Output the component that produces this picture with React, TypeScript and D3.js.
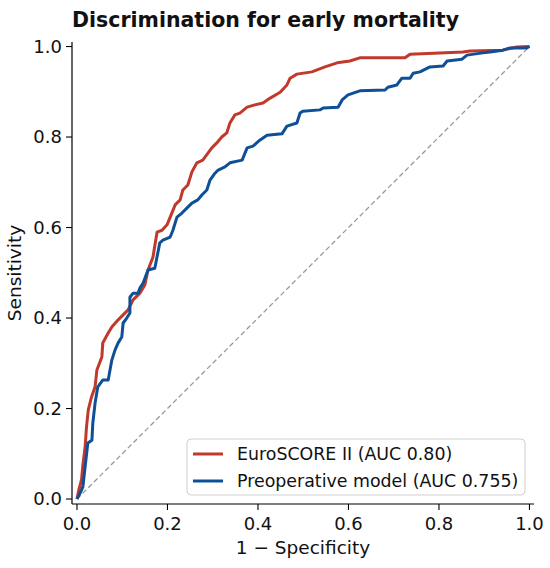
import * as d3 from "d3";

const WIDTH = 550;
const HEIGHT = 568;
const MARGIN = { top: 42, right: 16, bottom: 64, left: 72 };

const TITLE = "Discrimination for early mortality";
const X_LABEL = "1 \u2212 Specificity";
const Y_LABEL = "Sensitivity";
const TICKS = [0, 0.2, 0.4, 0.6, 0.8, 1.0];

type Pt = [number, number];

// EuroSCORE II ROC points (fpr, tpr)
const euroFpr = [0, 0.004, 0.01, 0.013, 0.018, 0.021, 0.025, 0.032, 0.04, 0.044, 0.055, 0.057, 0.069, 0.077, 0.091, 0.102, 0.113, 0.124, 0.139, 0.15, 0.157, 0.168, 0.177, 0.188, 0.199, 0.206, 0.217, 0.228, 0.234, 0.245, 0.254, 0.265, 0.278, 0.298, 0.309, 0.32, 0.331, 0.338, 0.349, 0.36, 0.376, 0.393, 0.411, 0.427, 0.449, 0.464, 0.471, 0.486, 0.519, 0.548, 0.575, 0.603, 0.625, 0.725, 0.736, 0.853, 0.869, 0.941, 0.972, 1.0];
const euroTpr = [0, 0.02, 0.042, 0.075, 0.115, 0.159, 0.197, 0.225, 0.248, 0.285, 0.314, 0.345, 0.367, 0.38, 0.396, 0.407, 0.418, 0.44, 0.455, 0.473, 0.506, 0.535, 0.59, 0.594, 0.606, 0.623, 0.65, 0.661, 0.683, 0.694, 0.723, 0.743, 0.749, 0.776, 0.787, 0.8, 0.809, 0.831, 0.849, 0.853, 0.866, 0.871, 0.875, 0.886, 0.899, 0.915, 0.93, 0.939, 0.944, 0.955, 0.964, 0.968, 0.975, 0.975, 0.983, 0.988, 0.99, 0.992, 0.999, 1.0];

// Preoperative model ROC points
const preFpr = [0, 0.007, 0.013, 0.018, 0.024, 0.033, 0.035, 0.04, 0.046, 0.057, 0.069, 0.073, 0.077, 0.084, 0.091, 0.099, 0.102, 0.11, 0.117, 0.117, 0.124, 0.135, 0.139, 0.146, 0.157, 0.172, 0.183, 0.19, 0.206, 0.212, 0.221, 0.232, 0.245, 0.254, 0.267, 0.276, 0.287, 0.294, 0.305, 0.312, 0.327, 0.338, 0.365, 0.376, 0.389, 0.404, 0.42, 0.453, 0.464, 0.486, 0.493, 0.499, 0.537, 0.544, 0.577, 0.586, 0.599, 0.625, 0.681, 0.687, 0.707, 0.718, 0.736, 0.743, 0.758, 0.78, 0.809, 0.818, 0.851, 0.862, 0.897, 0.913, 0.941, 0.957, 0.994, 1.0];
const preTpr = [0, 0.013, 0.027, 0.071, 0.124, 0.13, 0.168, 0.212, 0.248, 0.263, 0.263, 0.285, 0.307, 0.329, 0.345, 0.358, 0.389, 0.4, 0.411, 0.446, 0.455, 0.455, 0.466, 0.477, 0.506, 0.51, 0.566, 0.572, 0.579, 0.594, 0.623, 0.632, 0.645, 0.654, 0.661, 0.672, 0.683, 0.705, 0.72, 0.727, 0.734, 0.743, 0.749, 0.776, 0.78, 0.793, 0.804, 0.807, 0.824, 0.831, 0.853, 0.857, 0.86, 0.864, 0.866, 0.882, 0.893, 0.902, 0.904, 0.91, 0.915, 0.93, 0.93, 0.941, 0.944, 0.955, 0.957, 0.968, 0.972, 0.981, 0.986, 0.988, 0.992, 0.997, 0.997, 1.0];

const SERIES = [
  { name: "EuroSCORE II (AUC 0.80)", color: "#c0392b", fpr: euroFpr, tpr: euroTpr },
  { name: "Preoperative model (AUC 0.755)", color: "#0e4f97", fpr: preFpr, tpr: preTpr },
];

const FONT = "'DejaVu Sans', sans-serif";

export default function App() {
  const boundsWidth = WIDTH - MARGIN.left - MARGIN.right;
  const boundsHeight = HEIGHT - MARGIN.top - MARGIN.bottom;

  const xScale = d3.scaleLinear().domain([-0.011, 1.01]).range([0, boundsWidth]);
  const yScale = d3.scaleLinear().domain([-0.011, 1.01]).range([boundsHeight, 0]);

  const line = d3
    .line<Pt>()
    .x((d) => xScale(d[0]))
    .y((d) => yScale(d[1]));

  const legendX = 115;
  const legendY = 397;

  return (
    <svg
      width={WIDTH}
      height={HEIGHT}
      style={{ position: "absolute", left: 0, top: 0, background: "white" }}
      fontFamily={FONT}
    >
      <text x={72} y={27} fontSize={20.5} fontWeight="bold" fill="#111">
        {TITLE}
      </text>
      <g transform={`translate(${MARGIN.left},${MARGIN.top})`}>
        {/* chance diagonal */}
        <path
          d={line([[0, 0], [1, 1]]) || ""}
          stroke="#999"
          strokeWidth={1.3}
          strokeDasharray="5,3"
          fill="none"
        />
        {SERIES.map((s) => (
          <path
            key={s.name}
            d={line(s.fpr.map((f, i) => [f, s.tpr[i]] as Pt)) || ""}
            stroke={s.color}
            strokeWidth={3}
            strokeLinejoin="round"
            fill="none"
          />
        ))}

        {/* spines */}
        <line x1={0} x2={0} y1={0} y2={boundsHeight} stroke="#000" strokeWidth={1.2} />
        <line x1={0} x2={boundsWidth} y1={boundsHeight} y2={boundsHeight} stroke="#000" strokeWidth={1.2} />

        {TICKS.map((t) => (
          <g key={"x" + t} transform={`translate(${xScale(t)},${boundsHeight})`}>
            <line y2={6} stroke="#000" strokeWidth={1.1} />
            <text y={26} textAnchor="middle" fontSize={18} fill="#111">
              {t.toFixed(1)}
            </text>
          </g>
        ))}
        {TICKS.map((t) => (
          <g key={"y" + t} transform={`translate(0,${yScale(t)})`}>
            <line x2={-6} stroke="#000" strokeWidth={1.1} />
            <text x={-10} dy="0.35em" textAnchor="end" fontSize={18} fill="#111">
              {t.toFixed(1)}
            </text>
          </g>
        ))}

        <text x={boundsWidth / 2} y={boundsHeight + 50} textAnchor="middle" fontSize={18.5} fill="#111">
          {X_LABEL}
        </text>
        <text
          transform={`translate(-51,${boundsHeight / 2}) rotate(-90)`}
          textAnchor="middle"
          fontSize={18.5}
          fill="#111"
        >
          {Y_LABEL}
        </text>

        {/* legend */}
        <g transform={`translate(${legendX},${legendY})`}>
          <rect width={338} height={56} rx={4} fill="white" fillOpacity={0.85} stroke="#d0d0d0" strokeWidth={1} />
          {SERIES.map((s, i) => (
            <g key={s.name} transform={`translate(0,${15 + i * 27})`}>
              <line x1={6} x2={36} stroke={s.color} strokeWidth={3} />
              <text x={50} dy="0.35em" fontSize={17.4} fill="#111">
                {s.name}
              </text>
            </g>
          ))}
        </g>
      </g>
    </svg>
  );
}
